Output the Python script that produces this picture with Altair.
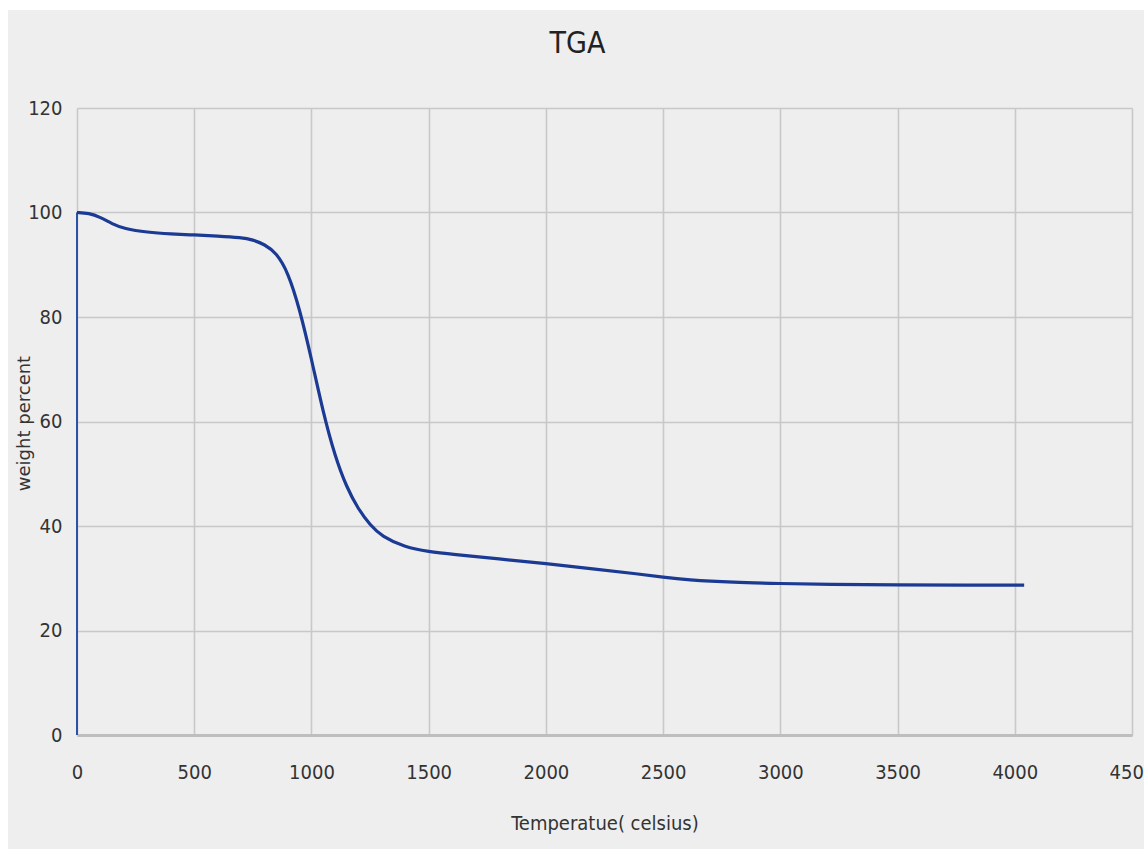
import altair as alt
import pandas as pd

# Main TGA curve (temperature in celsius, weight percent)
temperature = [0, 50, 100, 150, 200, 300, 400, 500, 600, 700, 750, 800, 850,
               900, 950, 1000, 1050, 1100, 1150, 1200, 1250, 1300, 1400, 1500,
               1600, 1800, 2000, 2200, 2400, 2500, 2600, 2800, 3000, 3200,
               3500, 3800, 4040]
weight = [100, 99.9, 99.1, 97.8, 96.9, 96.2, 95.9, 95.7, 95.5, 95.2, 94.8,
          93.9, 92.3, 88.6, 81.5, 72.0, 61.7, 53.4, 47.4, 43.2, 40.2, 38.0,
          35.9, 35.1, 34.6, 33.7, 32.8, 31.8, 30.8, 30.2, 29.7, 29.2, 29.0,
          28.8, 28.7, 28.7, 28.7]

# Initial vertical segment of the recorded series
start_temperature = [0, 0]
start_weight = [0, 100]

x_ticks = [0, 500, 1000, 1500, 2000, 2500, 3000, 3500, 4000, 4500]
y_ticks = [0, 20, 40, 60, 80, 100, 120]

NARROW = "'Liberation Sans Narrow', 'DejaVu Sans Condensed', 'Arial Narrow', sans-serif"
LINE_COLOR = "#1b3a93"

df = pd.DataFrame({"t": temperature, "w": weight})
df_start = pd.DataFrame({"t": start_temperature, "w": start_weight})
bg = pd.DataFrame({"k": [0]})

x_enc = alt.X("t:Q",
              scale=alt.Scale(domain=[0, 4500], nice=False),
              axis=alt.Axis(values=x_ticks, title="Temperatue( celsius)",
                            format="d",
                            grid=True, ticks=False, domain=True,
                            domainColor="#bebebe", domainWidth=3,
                            labelFont=NARROW, labelFontSize=20,
                            labelColor="#333333", labelPadding=27,
                            titleFont=NARROW, titleFontSize=20,
                            titleFontWeight="normal", titleColor="#333333",
                            titlePadding=31, labelFlush=False))
y_enc = alt.Y("w:Q",
              scale=alt.Scale(domain=[0, 120], nice=False),
              axis=alt.Axis(values=y_ticks, title="weight percent",
                            format="d",
                            grid=True, ticks=False, domain=False,
                            labelFont=NARROW, labelFontSize=20,
                            labelColor="#333333", labelPadding=15,
                            titleFont="DejaVu Sans", titleFontSize=18,
                            titleFontWeight="normal", titleColor="#333333",
                            titleX=-53, titleY=315, titleAngle=270,
                            titleAlign="center", titleBaseline="middle",
                            labelFlush=False))

# white strips around the grey panel (decoration)
strip_top = alt.Chart(bg).mark_rect(color="white").encode(
    x=alt.value(-77), x2=alt.value(1067), y=alt.value(-108), y2=alt.value(-98))
strip_left = alt.Chart(bg).mark_rect(color="white").encode(
    x=alt.value(-77), x2=alt.value(-69), y=alt.value(-108), y2=alt.value(741))

start_line = alt.Chart(df_start).mark_line(color="#2a52a8", strokeWidth=2).encode(
    x=x_enc, y=y_enc)
main_line = alt.Chart(df).mark_line(color=LINE_COLOR, strokeWidth=3.2,
                                    interpolate="basis").encode(
    x="t:Q", y="w:Q")

chart = alt.layer(strip_top, strip_left, start_line, main_line).properties(
    width=1055, height=627,
    title=alt.TitleParams("TGA", font=NARROW, fontSize=30, fontWeight="normal",
                          color="#222222", anchor="middle", frame="group",
                          dx=-27, offset=-89, baseline="bottom"),
    autosize=alt.AutoSizeParams(type="none"),
    padding={"left": 77, "top": 108, "right": 12, "bottom": 114},
    background="#eeeeee",
).configure_view(stroke=None).configure_axis(
    gridColor="#c8c8c8", gridWidth=1.6)

chart.save("out.html", embed_options={"renderer": "svg", "actions": False})
